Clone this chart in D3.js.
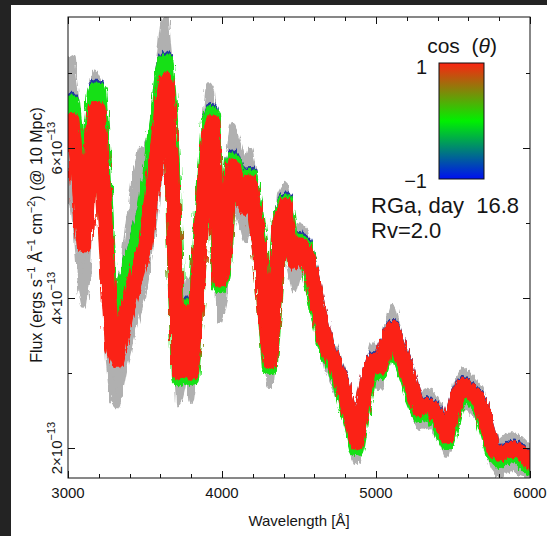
<!DOCTYPE html>
<html>
<head>
<meta charset="utf-8">
<script src="https://cdn.jsdelivr.net/npm/d3@7"></script>
<style>
  html, body { margin: 0; padding: 0; background: #232323; }
  svg { display: block; }
  text { font-family: "Liberation Sans", Arial, sans-serif; fill: #151515; }
</style>
</head>
<body>
<div id="chart"></div>
<script>
// wavelength grid (Angstrom) and fluxes in units of 1e-13 erg/s/A/cm2
var wave = [3000,3025,3060,3085,3105,3125,3150,3175,3195,3215,3240,3265,3290,3320,3345,3370,3400,3435,3470,3500,
  3530,3565,3600,3615,3635,3660,3680,3700,3720,3745,3775,3800,3825,3855,3890,3915,3935,3960,3985,4015,
  4040,4070,4115,4150,4180,4215,4245,4280,4310,4345,4375,4410,4440,4470,4505,4540,4590,4635,4680,4735,
  4785,4830,4875,4910,4950,4980,5025,5065,5110,5155,5200,5245,5285,5330,5365,5415,5460,5495,5525,5565,
  5610,5675,5720,5760,5805,5850,5890,5935,6000];

// cos(theta) = 1
var fluxRed = [6.27,6.37,5.71,4.97,4.71,5.11,5.97,6.53,6.53,6.04, 5.04,4.04,3.31,3.17,3.44,3.71,3.97,4.24,4.48,4.71,
  5.13,5.71,6.37,6.71,6.91,6.31,5.44,4.11,3.01,3.31, 3.81,3.01,3.51,4.64,5.64,6.24,6.35,5.44,4.24,4.53,
  5.31,5.77,5.51,5.20,5.55,5.11,4.61,3.81,3.15,3.97, 5.01,5.24,4.77,4.48,4.71,4.64,4.24,3.77,3.37,3.11,
  2.84,2.44,2.07,2.51,2.97,3.17,3.08,3.37,3.60,3.31, 3.04,2.71,2.51,2.57,2.53,2.37,2.15,2.44,2.68,2.84,
  2.77,2.61,2.31,2.01,1.91,1.97,1.99,1.95,1.81];
// cos(theta) = 0
var fluxGreen = [6.51,6.61,5.95,5.21,4.95,5.35,6.21,6.77,6.77,6.28, 5.28,4.28,3.55,3.52,3.89,4.16,4.42,4.69,4.93,5.16,
  5.58,6.16,6.72,7.01,7.15,6.47,5.57,4.18,2.93,3.31, 3.88,2.93,3.59,4.75,5.75,6.35,6.46,5.40,4.17,4.49,
  5.38,5.84,5.58,5.27,5.62,5.18,4.68,3.88,3.08,4.01, 5.05,5.28,4.81,4.52,4.75,4.68,4.17,3.70,3.30,3.04,
  2.77,2.37,2.00,2.44,2.90,3.10,3.01,3.30,3.53,3.24, 2.97,2.64,2.44,2.50,2.46,2.30,2.08,2.37,2.61,2.77,
  2.70,2.54,2.24,1.94,1.84,1.90,1.92,1.88,1.74];
// cos(theta) = -1
var fluxBlue = [6.56,6.66,6.00,5.26,5.00,5.40,6.26,6.82,6.82,6.33, 5.33,4.33,3.60,3.57,3.94,4.21,4.47,4.74,4.98,5.21,
  5.63,6.21,6.77,7.06,7.20,6.52,5.62,4.23,2.98,3.36, 3.93,2.98,3.64,4.80,5.80,6.40,6.51,5.45,4.22,4.54,
  5.43,5.89,5.63,5.32,5.67,5.23,4.73,3.93,3.13,4.06, 5.10,5.33,4.86,4.57,4.80,4.73,4.27,3.80,3.40,3.14,
  2.87,2.47,2.10,2.54,3.00,3.20,3.11,3.40,3.63,3.34, 3.07,2.74,2.54,2.60,2.56,2.40,2.18,2.47,2.71,2.87,
  2.80,2.64,2.34,2.04,1.94,2.00,2.02,1.98,1.84];
// grey envelope of all realisations
var grayHi = [7.17,7.20,6.51,5.71,5.31,5.97,6.77,7.01,6.93,6.57, 5.64,4.71,3.97,3.71,4.11,4.64,5.11,5.64,5.97,6.00,
  6.11,6.64,7.31,7.64,7.73,7.17,6.24,5.04,3.57,3.71, 4.24,3.51,4.11,5.31,6.37,6.84,6.77,5.97,4.71,5.04,
  5.84,6.31,5.97,5.71,5.97,5.57,5.04,4.17,3.44,4.37, 5.37,5.51,5.11,4.77,4.97,4.88,4.48,4.00,3.57,3.31,
  3.04,2.64,2.27,2.71,3.15,3.37,3.28,3.57,3.88,3.51, 3.23,2.88,2.68,2.77,2.72,2.56,2.32,2.61,2.87,3.04,
  2.96,2.80,2.49,2.20,2.08,2.16,2.17,2.13,2.00];
var grayLo = [5.31,5.44,4.77,4.11,3.91,4.24,5.11,5.71,5.64,5.11, 4.11,3.17,2.64,2.57,2.84,3.11,3.37,3.64,3.91,4.17,
  4.57,5.11,5.71,5.97,6.11,5.57,4.64,3.44,2.61,2.84, 3.37,2.64,3.04,4.11,5.11,5.71,5.84,4.97,3.71,3.97,
  4.80,5.31,5.07,4.77,5.11,4.64,4.17,3.37,2.84,3.57, 4.61,4.88,4.40,4.11,4.37,4.29,3.93,3.47,3.07,2.80,
  2.56,2.16,1.81,2.24,2.71,2.91,2.80,3.09,3.32,3.04, 2.77,2.45,2.27,2.33,2.29,2.13,1.91,2.19,2.43,2.57,
  2.51,2.37,2.07,1.76,1.65,1.71,1.72,1.69,1.60];

var xMajor = [3000, 4000, 5000, 6000];
var xLabels = ["3000", "4000", "5000", "6000"];
var yMajor = [2, 4, 6];
var yLabels = ["2", "4", "6"];
var cbLabels = ["1", "\u22121"];

var W = 547, H = 536;
var pLeft = 68, pRight = 530, pTop = 17, pBottom = 478;

var svg = d3.select("#chart").append("svg")
    .attr("width", W)
    .attr("height", H);

var defs = svg.append("defs");

// white page on the dark viewer frame
svg.append("rect")
    .attr("x", 11).attr("y", 5)
    .attr("width", W - 11).attr("height", H - 5)
    .attr("fill", "#fff");

var x = d3.scaleLinear().domain([3000, 6000]).range([pLeft, pRight]);
var y = d3.scaleLinear().domain([1.6, 7.75]).range([pBottom, pTop]);

defs.append("clipPath").attr("id", "clip")
  .append("rect")
    .attr("x", pLeft).attr("y", pTop)
    .attr("width", pRight - pLeft).attr("height", pBottom - pTop);

// grainy edges, like many overplotted noisy spectra
var rough = defs.append("filter").attr("id", "rough")
    .attr("x", "-5%").attr("y", "-5%").attr("width", "110%").attr("height", "110%");
rough.append("feTurbulence")
    .attr("type", "fractalNoise").attr("baseFrequency", "0.45 0.06")
    .attr("numOctaves", 2).attr("seed", 4).attr("result", "n");
rough.append("feDisplacementMap")
    .attr("in", "SourceGraphic").attr("in2", "n")
    .attr("scale", 7).attr("xChannelSelector", "R").attr("yChannelSelector", "G");

var plot = svg.append("g").attr("clip-path", "url(#clip)")
  .append("g").attr("filter", "url(#rough)");

var idx = d3.range(wave.length);

var band = d3.area()
    .x(function(i) { return x(wave[i]); })
    .y0(function(i) { return y(grayLo[i]); })
    .y1(function(i) { return y(grayHi[i]); });

plot.append("path")
    .attr("d", band(idx))
    .attr("fill", "#b0b0b0")
    .attr("stroke", "#b0b0b0")
    .attr("stroke-width", 6)
    .attr("stroke-linejoin", "round");

var series = [
  {vals: fluxBlue,  color: "#23389e", w: 14},
  {vals: fluxGreen, color: "#14e014", w: 16},
  {vals: fluxRed,   color: "#fb2412", w: 15}
];

series.forEach(function(s) {
  var line = d3.line()
      .x(function(i) { return x(wave[i]); })
      .y(function(i) { return y(s.vals[i]); });
  plot.append("path")
      .attr("d", line(idx))
      .attr("fill", "none")
      .attr("stroke", s.color)
      .attr("stroke-width", s.w)
      .attr("stroke-linejoin", "round")
      .attr("stroke-linecap", "round");
});

// frame and ticks
var axes = svg.append("g").attr("stroke", "#111").attr("stroke-width", 1);

axes.append("rect")
    .attr("x", pLeft).attr("y", pTop)
    .attr("width", pRight - pLeft).attr("height", pBottom - pTop)
    .attr("fill", "none");

d3.range(3000, 6001, 200).forEach(function(v) {
  var len = (v % 1000 === 0) ? 7 : 4;
  var px = Math.round(x(v)) + 0.5;
  axes.append("line").attr("x1", px).attr("x2", px).attr("y1", pBottom).attr("y2", pBottom - len);
  axes.append("line").attr("x1", px).attr("x2", px).attr("y1", pTop).attr("y2", pTop + len);
});

d3.range(2, 8, 1).forEach(function(v) {
  var len = (v % 2 === 0) ? 7 : 4;
  var py = Math.round(y(v)) + 0.5;
  axes.append("line").attr("y1", py).attr("y2", py).attr("x1", pLeft).attr("x2", pLeft + len);
  axes.append("line").attr("y1", py).attr("y2", py).attr("x1", pRight).attr("x2", pRight - len);
});

// tick labels
xMajor.forEach(function(v, i) {
  svg.append("text")
      .attr("x", x(v)).attr("y", 498)
      .attr("text-anchor", "middle")
      .attr("font-size", 15)
      .text(xLabels[i]);
});

yMajor.forEach(function(v, i) {
  var t = svg.append("text")
      .attr("transform", "translate(62," + y(v) + ") rotate(-90)")
      .attr("text-anchor", "middle")
      .attr("font-size", 15);
  t.append("tspan").text(yLabels[i] + "\u00d710");
  t.append("tspan").attr("dy", -7).attr("font-size", 11).text("\u221213");
});

// axis titles
svg.append("text")
    .attr("x", (pLeft + pRight) / 2).attr("y", 526)
    .attr("text-anchor", "middle")
    .attr("font-size", 15)
    .text("Wavelength [\u00c5]");

var yt = svg.append("text")
    .attr("transform", "translate(42,235) rotate(-90)")
    .attr("text-anchor", "middle")
    .attr("font-size", 16);
[["Flux (ergs s", 0], ["\u22121", 1], [" \u00c5", 0], ["\u22121", 1], [" cm", 0], ["\u22122", 1], [") (@ 10 Mpc)", 0]]
  .forEach(function(p, i, arr) {
    var prev = i > 0 ? arr[i - 1][1] : 0;
    var dy = p[1] && !prev ? -7 : (!p[1] && prev ? 7 : 0);
    yt.append("tspan")
        .attr("dy", dy)
        .attr("font-size", p[1] ? 11 : 16)
        .text(p[0]);
  });

// colour bar legend
var grad = defs.append("linearGradient")
    .attr("id", "cb").attr("x1", 0).attr("y1", 0).attr("x2", 0).attr("y2", 1);
grad.append("stop").attr("offset", "0%").attr("stop-color", "#fb2412");
grad.append("stop").attr("offset", "50%").attr("stop-color", "#00f000");
grad.append("stop").attr("offset", "100%").attr("stop-color", "#0010f0");

var cb = d3.scaleLinear().domain([1, -1]).range([63, 179]);

svg.append("rect")
    .attr("x", 439).attr("y", cb(1))
    .attr("width", 45).attr("height", cb(-1) - cb(1))
    .attr("fill", "url(#cb)")
    .attr("stroke", "#111").attr("stroke-width", 1);

var ct = svg.append("text")
    .attr("x", 462).attr("y", 53)
    .attr("text-anchor", "middle")
    .attr("font-size", 21)
    .style("white-space", "pre");
ct.append("tspan").text("cos  (");
ct.append("tspan").attr("font-style", "italic").text("\u03b8");
ct.append("tspan").text(")");

svg.append("text")
    .attr("x", 427).attr("y", cb(1) + 11)
    .attr("text-anchor", "end")
    .attr("font-size", 20)
    .text(cbLabels[0]);
svg.append("text")
    .attr("x", 427).attr("y", cb(-1) + 9)
    .attr("text-anchor", "end")
    .attr("font-size", 20)
    .text(cbLabels[1]);

svg.append("text")
    .attr("x", 371).attr("y", 213)
    .attr("font-size", 22)
    .style("white-space", "pre")
    .text("RGa, day  16.8");
svg.append("text")
    .attr("x", 371).attr("y", 238)
    .attr("font-size", 22)
    .text("Rv=2.0");
</script>
</body>
</html>
